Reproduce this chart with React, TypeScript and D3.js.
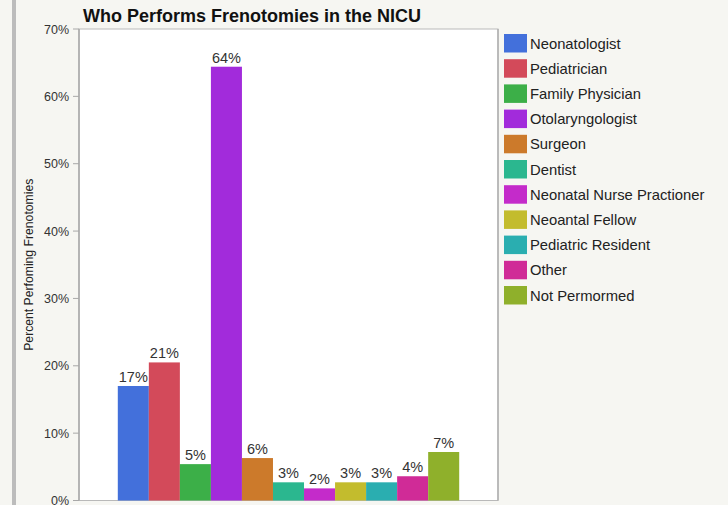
import React from "react";
import * as d3 from "d3";

const categories = [
  "Neonatologist",
  "Pediatrician",
  "Family Physician",
  "Otolaryngologist",
  "Surgeon",
  "Dentist",
  "Neonatal Nurse Practioner",
  "Neoantal Fellow",
  "Pediatric Resident",
  "Other",
  "Not Permormed",
];
const values = [17.0, 20.5, 5.4, 64.4, 6.3, 2.7, 1.8, 2.7, 2.7, 3.6, 7.2];
const colors = [
  "#4370db",
  "#d34a5a",
  "#3caf48",
  "#a22bdb",
  "#cc7a2b",
  "#2bb78f",
  "#c42bca",
  "#c3bc2d",
  "#2aaeb0",
  "#d02b97",
  "#8fb02b",
];
const yTicks = [0, 10, 20, 30, 40, 50, 60, 70];
const title = "Who Performs Frenotomies in the NICU";
const yLabel = "Percent Perfoming Frenotomies";

const W = 728;
const H = 505;
const plot = { left: 79, right: 498, top: 29, bottom: 500.5 };
const FONT = "'Liberation Sans', Arial, Helvetica, sans-serif";

export default function App() {
  const y = d3.scaleLinear().domain([0, 70]).range([plot.bottom, plot.top]);
  const x = d3
    .scaleBand<string>()
    .domain(categories)
    .range([plot.left, plot.right])
    .paddingInner(0)
    .paddingOuter(1.25);

  return (
    <svg
      width={W}
      height={H}
      style={{ position: "absolute", left: 0, top: 0, display: "block" }}
      fontFamily={FONT}
    >
      <rect x={0} y={0} width={W} height={H} fill="#f6f6f2" />
      <rect x={12} y={0} width={4} height={H} fill="#bcbcbc" />
      <text x={83} y={22} fontSize={18} fontWeight="bold" fill="#111">
        {title}
      </text>
      <rect
        x={plot.left}
        y={plot.top}
        width={plot.right - plot.left}
        height={plot.bottom - plot.top}
        fill="#ffffff"
        stroke="#b9b9b9"
        strokeWidth={1}
      />
      <line
        x1={plot.left}
        x2={plot.left}
        y1={plot.top}
        y2={plot.bottom}
        stroke="#a8a8a8"
        strokeWidth={1.5}
      />
      <line
        x1={plot.right}
        x2={plot.right}
        y1={plot.top}
        y2={plot.bottom}
        stroke="#b0b0b0"
        strokeWidth={1.5}
      />
      {yTicks.map((t) => (
        <g key={t}>
          <line
            x1={plot.left - 6}
            x2={plot.left}
            y1={y(t)}
            y2={y(t)}
            stroke="#a8a8a8"
          />
          <text
            x={69}
            y={y(t) + 4.5}
            textAnchor="end"
            fontSize={12.5}
            fill="#333"
          >
            {t}%
          </text>
        </g>
      ))}
      <text
        transform={`translate(33,${(plot.top + plot.bottom) / 2}) rotate(-90)`}
        textAnchor="middle"
        fontSize={12.2}
        fill="#222"
      >
        {yLabel}
      </text>
      {categories.map((c, i) => (
        <g key={c}>
          <rect
            x={x(c)!}
            y={y(values[i])}
            width={x.bandwidth()}
            height={plot.bottom - y(values[i])}
            fill={colors[i]}
          />
          <text
            x={x(c)! + x.bandwidth() / 2}
            y={y(values[i]) - 4}
            textAnchor="middle"
            fontSize={14.5}
            fill="#333"
          >
            {Math.round(values[i])}%
          </text>
        </g>
      ))}
      {categories.map((c, i) => (
        <g key={"lg" + c} transform={`translate(504,${34 + i * 25.2})`}>
          <rect width={23} height={18.5} fill={colors[i]} />
          <text x={26} y={14.5} fontSize={14.8} fill="#222">
            {c}
          </text>
        </g>
      ))}
    </svg>
  );
}
